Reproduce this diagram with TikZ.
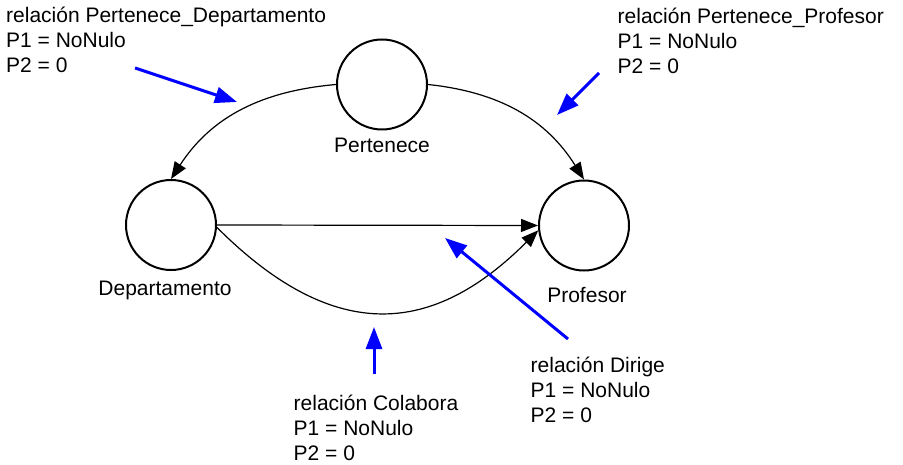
\documentclass[tikz,border=0pt]{standalone}
\usepackage{fontspec}
\setmainfont{Liberation Sans}
\usetikzlibrary{arrows.meta,calc}
\definecolor{annblue}{RGB}{0,0,255}
\begin{document}
\begin{tikzpicture}[x=1pt,y=-1pt,
  every node/.style={font=\fontsize{21}{25}\selectfont, inner sep=0pt},
  entity/.style={circle, draw, line width=2pt, minimum size=90pt},
  rel/.style={draw, line width=1.2pt, -{Triangle[length=17pt,width=13pt]}},
  note/.style={align=left, anchor=base west},
  annarrow/.style={draw=annblue, line width=3pt, -{Triangle[length=22pt,width=16pt]}}]
\useasboundingbox (0,0) rectangle (903,465);
% entities
\node[entity] (Pe) at (382,84.5) {};
\node[entity] (D) at (171,225) {};
\node[entity] (Pr) at (584,225.5) {};
\node[anchor=base] (PeL) at (382,153) {Pertenece};
\node[anchor=base] (DL) at (165,296) {Departamento};
\node[anchor=base] (PrL) at (587,302) {Profesor};
% relations
\draw[rel] (Pe.west) .. controls ($(Pe.west)+(-74,6.5)$) and ($(D.north)+(40.5,-62.4)$) .. (D.north);
\draw[rel] (Pe.east) .. controls ($(Pe.east)+(71,7.5)$) and ($(Pr.north)+(-38,-60.6)$) .. (Pr.north);
\draw[rel] (D.east) -- (Pr.west);
\draw[rel] (D.-3) .. controls ($(D.-3)+(120,120)$) and ($(Pr.186)+(-103,103)$) .. (Pr.186);
% notes (anchored at the baseline of their last line)
\node[note] (n1) at (6,73) {relación Pertenece\_Departamento\\P1 = NoNulo\\P2 = 0};
\node[note] (n2) at (617.5,74) {relación Pertenece\_Profesor\\P1 = NoNulo\\P2 = 0};
\node[note] (n3) at (530.5,422) {relación Dirige\\P1 = NoNulo\\P2 = 0};
\node[note] (n4) at (293.5,460) {relación Colabora\\P1 = NoNulo\\P2 = 0};
% annotation arrows
\coordinate (a1s) at (135,68); \coordinate (a1e) at (237,102);
\coordinate (a2s) at (599,73); \coordinate (a2e) at (557,115);
\coordinate (a3s) at (568,339); \coordinate (a3e) at (445,238);
\coordinate (a4s) at (374,374); \coordinate (a4e) at (374,327);
\draw[annarrow] (a1s) -- (a1e);
\draw[annarrow] (a2s) -- (a2e);
\draw[annarrow] (a3s) -- (a3e);
\draw[annarrow] (a4s) -- (a4e);
\end{tikzpicture}
\end{document}
